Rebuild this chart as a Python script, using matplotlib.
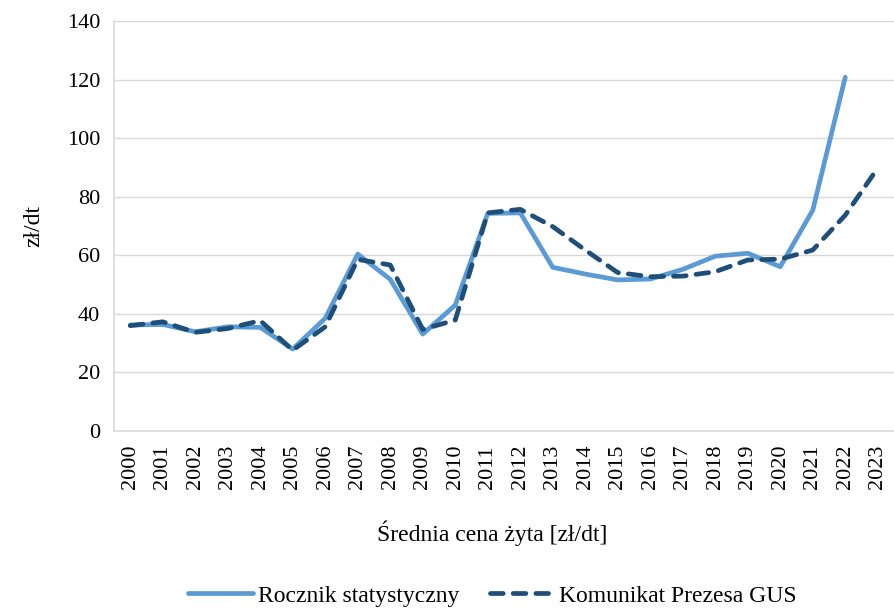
import matplotlib
matplotlib.use("Agg")
import matplotlib.pyplot as plt

years = [str(y) for y in range(2000, 2024)]
rocznik = [36.2, 36.4, 33.9, 35.6, 35.4, 28.0, 38.5, 60.4, 51.8, 33.1, 43.0, 74.3,
           74.5, 55.9, 53.6, 51.6, 51.9, 55.2, 59.7, 60.7, 56.1, 75.4, 120.8]
komunikat = [36.0, 37.3, 33.7, 35.0, 37.7, 27.6, 35.6, 58.6, 56.7, 34.7, 37.9, 74.5,
             75.7, 69.8, 61.8, 54.1, 52.7, 52.9, 54.4, 58.4, 58.7, 61.8, 73.7, 89.8]

plt.rcParams['font.family'] = ['Liberation Serif', 'DejaVu Serif']

fig = plt.figure(figsize=(8.94, 6.08), dpi=100)
ax = fig.add_axes([0.1275, 0.291, 0.8725, 0.6745])

x1 = list(range(len(rocznik)))
x2 = list(range(len(komunikat)))
ax.plot(x1, rocznik, color='#5B9BD5', lw=3.4, solid_capstyle='round',
        solid_joinstyle='round', label='Rocznik statystyczny', zorder=3)
ax.plot(x2, komunikat, color='#1F4E79', lw=3.4, linestyle=(0, (2.7, 2.1)),
        dash_capstyle='round', label='Komunikat Prezesa GUS', zorder=4)

ax.set_xlim(-0.5, len(years) - 0.5)
ax.set_ylim(0, 140)
ax.set_yticks(range(0, 141, 20))
ax.set_xticks(range(len(years)))
ax.set_xticklabels(years, rotation=90, fontsize=16)
ax.tick_params(axis='y', labelsize=16, length=0, pad=10)
ax.tick_params(axis='x', length=0, pad=10)
ax.grid(axis='y', color='#D9D9D9', lw=1.0)
ax.set_axisbelow(True)
for s in ['top', 'right']:
    ax.spines[s].set_visible(False)
for s in ['left', 'bottom']:
    ax.spines[s].set_color('#D9D9D9')
    ax.spines[s].set_linewidth(1.2)

ax.set_ylabel('zł/dt', fontsize=17, labelpad=16)
fig.text(0.551, 0.123, 'Średnia cena żyta [zł/dt]', ha='center', va='center', fontsize=17)

fig.legend(loc='center', bbox_to_anchor=(0.551, 0.02), ncol=2, frameon=False,
           fontsize=17, handlelength=2.75, columnspacing=1.3, handletextpad=0.2)

fig.savefig('out.png', dpi=100)
